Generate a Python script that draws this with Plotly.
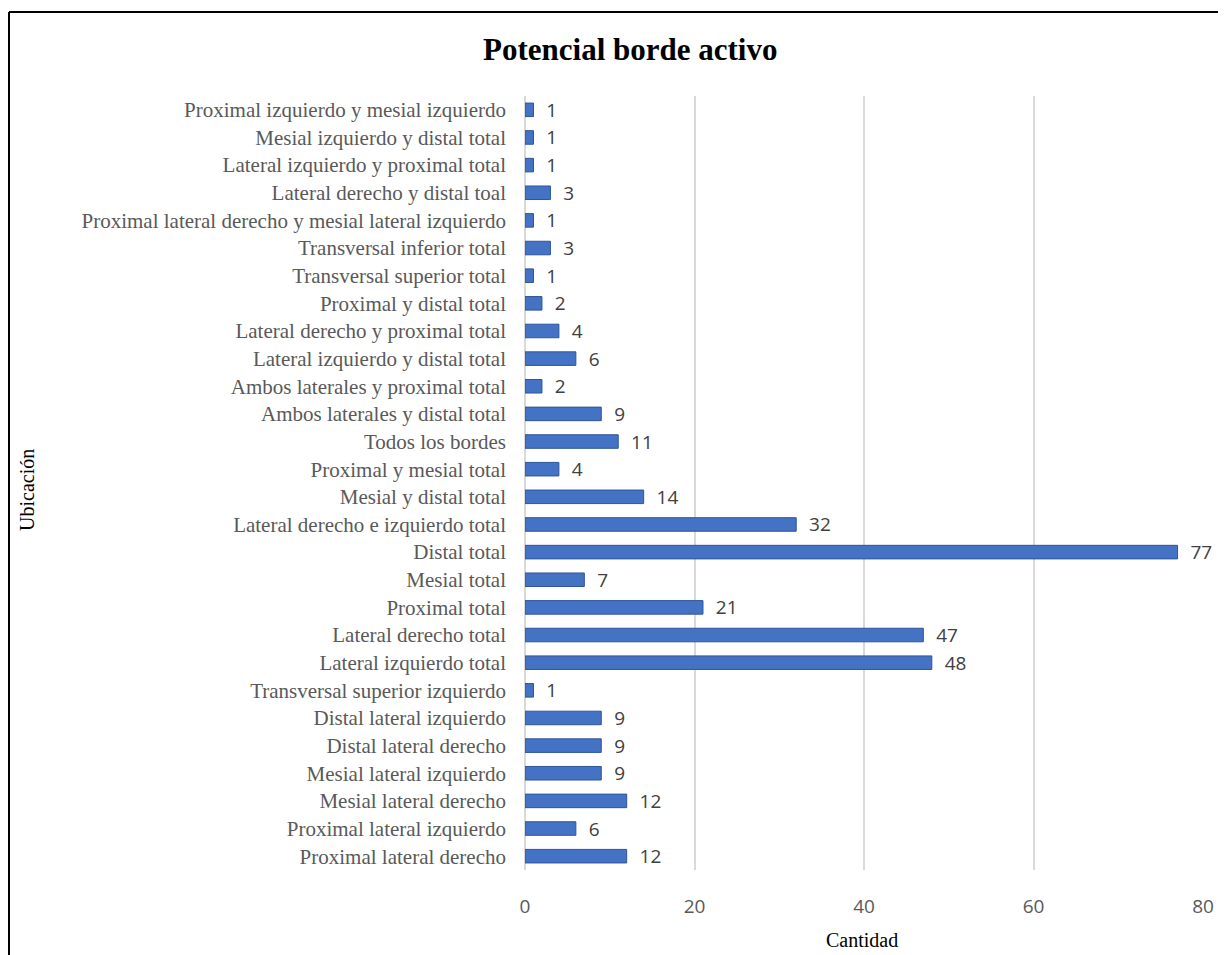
import plotly.graph_objects as go

categories = [
    "Proximal lateral derecho",
    "Proximal lateral izquierdo",
    "Mesial lateral derecho",
    "Mesial lateral izquierdo",
    "Distal lateral derecho",
    "Distal lateral izquierdo",
    "Transversal superior izquierdo",
    "Lateral izquierdo total",
    "Lateral derecho total",
    "Proximal total",
    "Mesial total",
    "Distal total",
    "Lateral derecho e izquierdo total",
    "Mesial y distal total",
    "Proximal y mesial total",
    "Todos los bordes",
    "Ambos laterales y distal total",
    "Ambos laterales y proximal total",
    "Lateral izquierdo y distal total",
    "Lateral derecho y proximal total",
    "Proximal y distal total",
    "Transversal superior total",
    "Transversal inferior total",
    "Proximal lateral derecho y mesial lateral izquierdo",
    "Lateral derecho y distal toal",
    "Lateral izquierdo y proximal total",
    "Mesial izquierdo y distal total",
    "Proximal izquierdo y mesial izquierdo",
]
values = [12, 6, 12, 9, 9, 9, 1, 48, 47, 21, 7, 77, 32, 14, 4, 11, 9, 2, 6, 4, 2, 1, 3, 1, 3, 1, 1, 1]
x_ticks = [0, 20, 40, 60, 80]

# page body has an 8px margin, so the figure starts at (8, 8) in the screenshot
OFF = 8
W, H = 1226 - OFF, 955 - OFF
ML, MR, MT, MB = 517, 23, 88, 85
PW, PH = W - ML - MR, H - MT - MB


def px(x):
    return (x - OFF - ML) / PW


def py(y):
    return 1 - (y - OFF - MT) / PH


serif = "Liberation Serif, Times New Roman, serif"
sans = "Open Sans, Liberation Sans, sans-serif"

fig = go.Figure(
    go.Bar(
        x=values,
        y=categories,
        orientation="h",
        marker=dict(color="#4472C4", line=dict(color="#2F5597", width=1)),
        text=values,
        texttemplate="  %{x}",
        textposition="outside",
        constraintext="none",
        textfont=dict(family=sans, size=19, color="#404040"),
        cliponaxis=False,
    )
)

fig.update_layout(
    width=W,
    height=H,
    margin=dict(l=ML, r=MR, t=MT, b=MB),
    paper_bgcolor="white",
    plot_bgcolor="white",
    bargap=0.51,
    showlegend=False,
    xaxis=dict(
        range=[0, 80],
        tickvals=x_ticks,
        showgrid=True,
        gridcolor="#D9D9D9",
        gridwidth=1.5,
        zeroline=True,
        zerolinecolor="#D9D9D9",
        zerolinewidth=1.5,
        showline=False,
        tickfont=dict(family=sans, size=19, color="#595959"),
        ticklabelstandoff=23,
    ),
    yaxis=dict(
        showgrid=False,
        showline=False,
        zeroline=False,
        tickfont=dict(family=serif, size=21, color="#595959"),
        ticklabelstandoff=18,
    ),
    annotations=[
        dict(
            text="<b>Potencial borde activo</b>", xref="paper", yref="paper",
            x=px(630), y=py(50),
            showarrow=False, xanchor="center", yanchor="middle",
            font=dict(family=serif, size=31, color="black"),
        ),
        dict(
            text="Ubicación", xref="paper", yref="paper",
            x=px(27), y=py(490), textangle=-90,
            showarrow=False, xanchor="center", yanchor="middle",
            font=dict(family=serif, size=20, color="black"),
        ),
        dict(
            text="Cantidad", xref="paper", yref="paper",
            x=px(862), y=py(940),
            showarrow=False, xanchor="center", yanchor="middle",
            font=dict(family=serif, size=20, color="black"),
        ),
    ],
    shapes=[
        dict(type="line", xref="paper", yref="paper",
             x0=px(9), x1=px(9), y0=py(12), y1=py(960),
             line=dict(color="black", width=2)),
        dict(type="line", xref="paper", yref="paper",
             x0=px(9), x1=px(1230), y0=py(12), y1=py(12),
             line=dict(color="black", width=2)),
    ],
)

fig.write_html("out.html")
